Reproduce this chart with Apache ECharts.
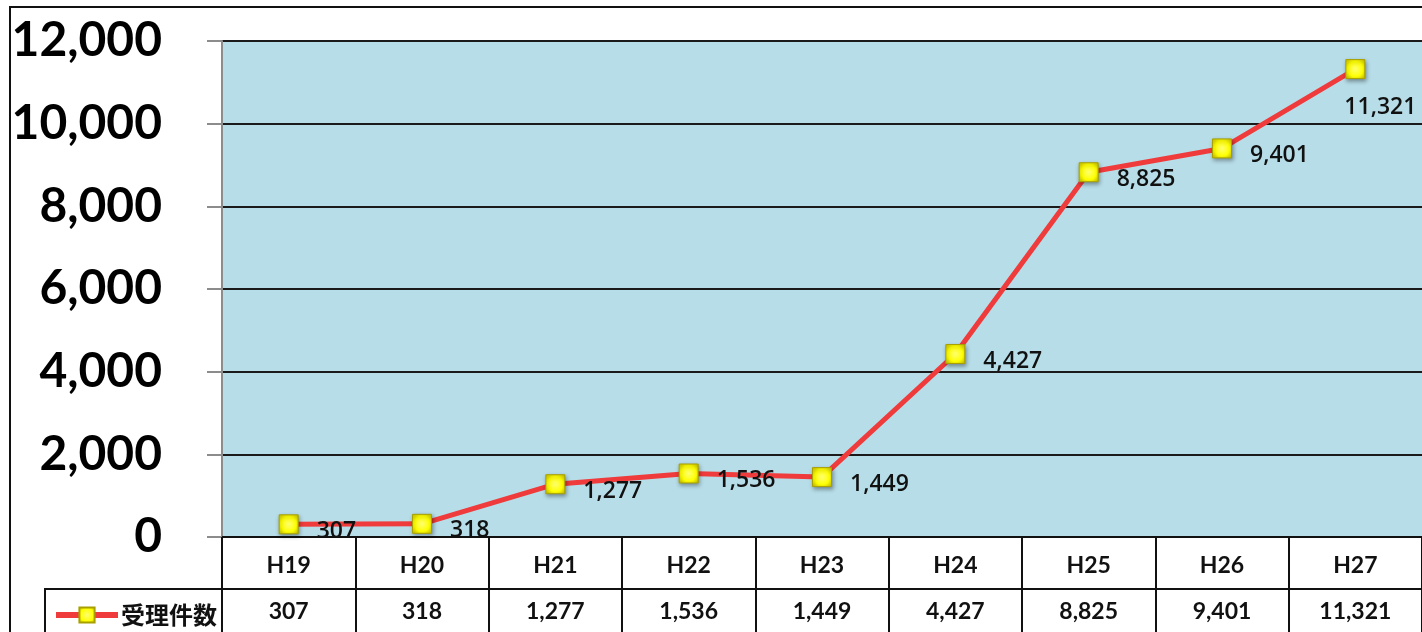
<!DOCTYPE html>
<html>
<head>
<meta charset="utf-8">
<style>
html,body{margin:0;padding:0;background:#fff;}
#c{width:1422px;height:632px;}
</style>
<script src="https://cdn.jsdelivr.net/npm/echarts@6/dist/echarts.min.js"></script>
</head>
<body>
<div id="c"></div>
<script>
var categories = ['H19','H20','H21','H22','H23','H24','H25','H26','H27'];
var seriesName = '受理件数';
var values = [307, 318, 1277, 1536, 1449, 4427, 8825, 9401, 11321];
var yMin = 0, yMax = 12000, yInterval = 2000;

function fmt(v){ return Number(v).toLocaleString('en-US'); }

var chart = echarts.init(document.getElementById('c'), null, {renderer:'canvas'});

var seriesData = values.map(function(v, i){
  var d = {value: v};
  if (i === values.length - 1) {
    d.label = {position: 'bottom', distance: 17, offset: [25, 0]};
  }
  return d;
});

var option = {
  animation: false,
  backgroundColor: '#ffffff',
  grid: {left: 222, top: 41, width: 1202, height: 496, show: true, backgroundColor: '#b7dde8', borderWidth: 0},
  legend: {
    left: 48, top: 598,
    itemWidth: 62, itemHeight: 19, itemGap: 4,
    lineStyle: {width: 6, color: '#ef3b3b'},
    textStyle: {fontFamily: 'Noto Sans CJK JP', fontWeight: 'bold', fontSize: 24, color: '#111', padding: [0, 0, 0, -2]},
    data: [seriesName]
  },
  xAxis: [
    {
      type: 'category', data: categories, gridIndex: 0, position: 'bottom',
      boundaryGap: true,
      axisLine: {show: true, lineStyle: {color: '#111', width: 2}},
      axisTick: {show: true, length: 100, alignWithLabel: false, lineStyle: {color: '#111', width: 2}},
      axisLabel: {margin: 17, fontFamily: 'Lato', fontWeight: 'bold', fontSize: 23, color: '#111'},
      splitLine: {show: false}
    },
    {
      type: 'category', data: values.map(fmt), gridIndex: 0, position: 'bottom', offset: 52,
      boundaryGap: true,
      axisLine: {show: true, lineStyle: {color: '#111', width: 2}},
      axisTick: {show: false},
      axisLabel: {margin: 11, fontFamily: 'Lato', fontWeight: 'bold', fontSize: 23, color: '#111'},
      splitLine: {show: false}
    }
  ],
  yAxis: {
    type: 'value', min: yMin, max: yMax, interval: yInterval,
    axisLine: {show: true, lineStyle: {color: '#8c8c8c', width: 2}},
    axisTick: {show: true, length: 15, lineStyle: {color: '#8c8c8c', width: 2}},
    axisLabel: {margin: 60, fontFamily: 'Lato', fontWeight: 'bold', fontSize: 48, color: '#000',
      formatter: function(v){ return fmt(v); }},
    splitLine: {show: true, lineStyle: {color: '#1a1a1a', width: 2}}
  },
  series: [{
    name: seriesName,
    type: 'line',
    xAxisIndex: 0,
    data: seriesData,
    symbol: 'rect',
    symbolSize: 19,
    lineStyle: {color: '#ef3b3b', width: 5},
    itemStyle: {
      color: {type: 'radial', x: 0.5, y: 0.5, r: 0.7, colorStops: [
        {offset: 0, color: '#ffff70'}, {offset: 0.55, color: '#ffff00'}, {offset: 1, color: '#bdb500'}]},
      borderColor: '#a8a000', borderWidth: 1,
      shadowColor: 'rgba(0,0,0,0.35)', shadowBlur: 4, shadowOffsetX: 1, shadowOffsetY: 2
    },
    label: {
      show: true, position: 'right', distance: 18, offset: [0, 7],
      fontFamily: 'Open Sans', fontWeight: 600, fontSize: 23, color: '#111',
      formatter: function(p){ return fmt(p.value); }
    },
    z: 5
  }],
  graphic: [
    {type: 'polyline', shape: {points: [[10, 632], [10, 7], [1422, 7]]}, style: {stroke: '#111', lineWidth: 2, fill: null}, silent: true},
    {type: 'polyline', shape: {points: [[45, 632], [45, 589], [222, 589]]}, style: {stroke: '#111', lineWidth: 2, fill: null}, silent: true}
  ]
};
chart.setOption(option);
</script>
</body>
</html>
